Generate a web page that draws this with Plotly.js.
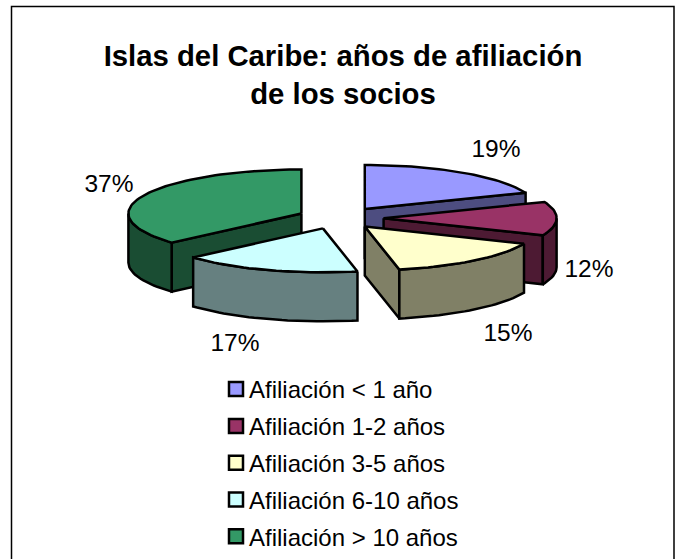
<!DOCTYPE html>
<html>
<head>
<meta charset="utf-8">
<script src="https://cdn.plot.ly/plotly-3.0.0.min.js"></script>
<style>html,body{margin:0;padding:0;background:#fff}#c{width:678px;height:559px}</style>
</head>
<body>
<div id="c"></div>
<script>
// Data
const categories = ['Afiliación < 1 año','Afiliación 1-2 años','Afiliación 3-5 años','Afiliación 6-10 años','Afiliación > 10 años'];
const shares = [19.0, 12.4, 15.4, 16.7, 36.5];
const topColors = ['#9999FF','#993366','#FFFFCC','#CCFFFF','#339966'];
const sideColors = ['#4D4D80','#4D1A33','#808066','#668080','#1A4D33'];
const titleLines = ['Islas del Caribe: años de afiliación','de los socios'];

// Layout of the projected pie, in page units
const cx = 340.6, cy = 218, rx = 173, ry = 44, depth = 49, explode = 43;
const sliceNudgeX = [0, 0, -3, -4, 0];
const labelX = [496, 589, 508, 235, 109];
const labelY = [151, 271, 335, 345, 186];
const drawOrder = [4, 3, 0, 1, 2];
const rad = d => d * Math.PI / 180;

const total = shares.reduce((a, b) => a + b, 0);
let run = 0;
const slices = shares.map((v, i) => {
  const s = run / total * 360; run += v; const e = run / total * 360;
  const m = (s + e) / 2;
  return {s, e, ax: cx + explode * Math.sin(rad(m)) + sliceNudgeX[i], ay: cy - explode * (ry / rx) * Math.cos(rad(m))};
});
const arc = (sl, a, b, dy) => {
  const xs = [], ys = [], n = Math.max(2, Math.ceil((b - a) / 2));
  for (let i = 0; i <= n; i++) {
    const t = rad(a + (b - a) * i / n);
    xs.push(sl.ax + rx * Math.sin(t)); ys.push(sl.ay - ry * Math.cos(t) + dy);
  }
  return [xs, ys];
};
const poly = (x, y, fill) => ({
  type: 'scatter', mode: 'lines', x, y, fill: 'toself', fillcolor: fill,
  line: {color: '#000', width: 2.5}, hoverinfo: 'skip', showlegend: false
});
const traces = [];
const cutFace = (sl, ang, fill) => {
  const px = sl.ax + rx * Math.sin(rad(ang)), py = sl.ay - ry * Math.cos(rad(ang));
  traces.push(poly([sl.ax, px, px, sl.ax, sl.ax], [sl.ay, py, py + depth, sl.ay + depth, sl.ay], fill));
};
drawOrder.forEach(i => {
  const sl = slices[i];
  if (Math.sin(rad(sl.s)) < -1e-6) cutFace(sl, sl.s, sideColors[i]);
  if (Math.sin(rad(sl.e)) > 1e-6) cutFace(sl, sl.e, sideColors[i]);
  const a = Math.max(sl.s, 90), b = Math.min(sl.e, 270);
  if (b > a) {
    const [ux, uy] = arc(sl, a, b, 0), [lx, ly] = arc(sl, a, b, depth);
    traces.push(poly(ux.concat(lx.reverse(), ux[0]), uy.concat(ly.reverse(), uy[0]), sideColors[i]));
  }
  const [tx, ty] = arc(sl, sl.s, sl.e, 0);
  traces.push(poly([sl.ax].concat(tx, sl.ax), [sl.ay].concat(ty, sl.ay), topColors[i]));
});
// Percentage labels
traces.push({
  type: 'scatter', mode: 'text', x: labelX, y: labelY,
  text: shares.map(v => Math.round(v / total * 100) + '%'),
  textposition: 'middle center', cliponaxis: false,
  textfont: {family: 'Liberation Sans, Arial, sans-serif', size: 24.5, color: '#000'},
  hoverinfo: 'skip', showlegend: false
});
// Legend entries
categories.forEach((name, i) => traces.push({
  type: 'scatter', mode: 'markers', x: [null], y: [null], name, legendgroup: 'g' + i, showlegend: true,
  marker: {symbol: 'square', size: 14, color: topColors[i], line: {color: '#000', width: 2.5}}
}));

const layout = {
  width: 678, height: 559, margin: {l: 0, r: 0, t: 0, b: 0},
  paper_bgcolor: '#fff', plot_bgcolor: '#fff', showlegend: true,
  title: {text: titleLines.join('<br>'), x: 343 / 678, xanchor: 'center', y: 1 - 66 / 559, yanchor: 'top', pad: {t: 0, b: 0, l: 0, r: 0},
          font: {family: 'Liberation Sans, Arial, sans-serif', size: 29.3, color: '#000', weight: 700}},
  xaxis: {range: [0, 678], visible: false, fixedrange: true},
  yaxis: {range: [559, 0], visible: false, fixedrange: true},
  legend: {x: 216 / 678, xanchor: 'left', y: 1 - 367 / 559, yanchor: 'top', bgcolor: 'rgba(0,0,0,0)', borderwidth: 0,
           traceorder: 'grouped', tracegroupgap: 2.6, indentation: -7, itemclick: false, itemdoubleclick: false,
           font: {family: 'Liberation Sans, Arial, sans-serif', size: 24, color: '#000'}},
  shapes: [{type: 'rect', xref: 'x', yref: 'y', x0: 11.5, x1: 674, y0: 6.5, y1: 600, line: {color: '#000', width: 1.5}, layer: 'below'}]
};
Plotly.newPlot('c', traces, layout, {displayModeBar: false}).then(gd => {
  // Plotly's fixed swatch-to-label gap is wider than the reference's: nudge the swatches closer.
  gd.querySelectorAll('.legend .legendsymbols').forEach(g => g.setAttribute('transform', 'translate(7,0)'));
});
</script>
</body>
</html>
